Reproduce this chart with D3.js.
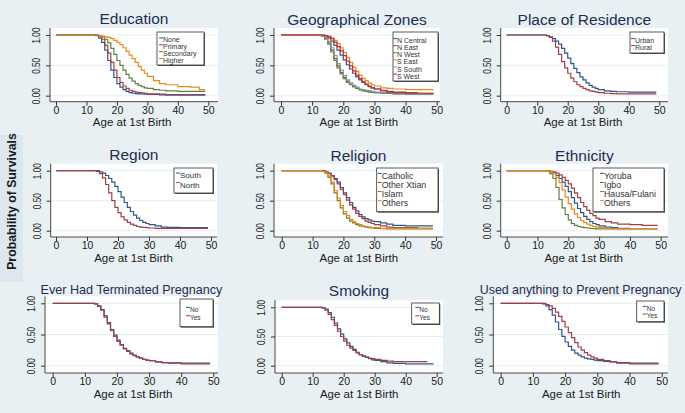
<!DOCTYPE html>
<html><head><meta charset="utf-8">
<script src="https://cdn.jsdelivr.net/npm/d3@7"></script>
<style>
html,body{margin:0;padding:0;background:#e9f0f3;}
svg{display:block;font-family:"Liberation Sans",Arial,sans-serif;}
</style>
</head><body>
<svg id="c" width="685" height="413"></svg>
<script>
// ---------- DATA ----------
const ages = [0,12,13,14,15,16,17,18,19,20,21,22,23,24,25,26,27,28,29,30,32,34,36,40,44,47,49];
const xTicks = [0,10,20,30,40,50];
const yTicks = [0,0.5,1];
const yTickLabels = ["0.00","0.50","1.00"];
const yAxisTitle = "Probability of Survivals";
const xAxisTitle = "Age at 1st Birth";

const panelTitles = ["Education","Geographical Zones","Place of Residence","Region","Religion","Ethnicity","Ever Had Terminated Pregnancy","Smoking","Used anything to Prevent Pregnancy"];

const eduLabels = ["None","Primary","Secondary","Higher"];
const eduNone      = [1,1,0.99,0.95,0.88,0.75,0.58,0.42,0.30,0.20,0.14,0.10,0.07,0.05,0.04,0.035,0.03,0.03,0.025,0.02,0.02,0.015,0.01,0.01,0.01,0.01,0.01];
const eduPrimary   = [1,1,1,0.98,0.93,0.83,0.70,0.55,0.42,0.30,0.22,0.16,0.12,0.09,0.07,0.06,0.05,0.045,0.04,0.03,0.03,0.025,0.02,0.02,0.02,0.02,0.02];
const eduSecondary = [1,1,1,0.99,0.97,0.93,0.87,0.78,0.68,0.58,0.50,0.42,0.35,0.29,0.24,0.20,0.17,0.15,0.13,0.12,0.10,0.09,0.08,0.07,0.07,0.07,0.07];
const eduHigher    = [1,1,1,0.99,0.98,0.97,0.96,0.94,0.91,0.88,0.84,0.79,0.73,0.67,0.61,0.55,0.48,0.42,0.37,0.32,0.25,0.20,0.18,0.15,0.14,0.10,0.10];

const zoneLabels = ["N Central","N East","N West","S East","S South","S West"];
const zoneNCentral = [1,1,0.995,0.98,0.95,0.90,0.83,0.75,0.67,0.59,0.51,0.44,0.37,0.31,0.26,0.22,0.18,0.15,0.13,0.11,0.09,0.07,0.06,0.05,0.05];
const zoneNEast    = [1,1,0.99,0.95,0.87,0.75,0.61,0.49,0.38,0.30,0.24,0.19,0.15,0.12,0.10,0.09,0.08,0.07,0.06,0.05,0.045,0.04,0.035,0.03,0.03,0.03,0.03];
const zoneNWest    = [1,1,0.98,0.93,0.85,0.72,0.58,0.46,0.36,0.28,0.22,0.18,0.15,0.12,0.10,0.08,0.07,0.06,0.055,0.05,0.04,0.04,0.03,0.03,0.03,0.03,0.03];
const zoneSEast    = [1,1,1,0.99,0.98,0.95,0.91,0.86,0.79,0.71,0.63,0.55,0.47,0.40,0.34,0.29,0.25,0.21,0.18,0.16,0.13,0.12,0.11,0.10,0.10,0.10,0.10];
const zoneSSouth   = [1,1,0.99,0.96,0.89,0.79,0.66,0.53,0.42,0.33,0.26,0.21,0.17,0.14,0.11,0.10,0.09,0.08,0.07,0.06,0.05,0.05,0.04,0.04,0.04,0.04,0.04];
const zoneSWest    = [1,1,1,0.99,0.97,0.94,0.88,0.81,0.74,0.66,0.57,0.49,0.41,0.34,0.28,0.23,0.19,0.16,0.13,0.11,0.08,0.06,0.05,0.04,0.04,0.04,0.04];

const resLabels = ["Urban","Rural"];
const resUrban = [1,1,0.99,0.97,0.94,0.90,0.85,0.78,0.70,0.62,0.53,0.45,0.38,0.31,0.26,0.21,0.17,0.14,0.12,0.10,0.08,0.07,0.065,0.06,0.06,0.06,0.06];
const resRural = [1,1,0.99,0.96,0.90,0.80,0.68,0.56,0.46,0.37,0.29,0.23,0.18,0.15,0.12,0.10,0.08,0.07,0.06,0.05,0.04,0.035,0.03,0.03,0.03,0.03,0.03];

const regLabels = ["South","North"];
const regSouth = [1,1,1,0.98,0.96,0.92,0.87,0.81,0.74,0.65,0.56,0.47,0.39,0.32,0.26,0.21,0.17,0.14,0.12,0.10,0.08,0.06,0.055,0.05,0.05,0.05,0.05];
const regNorth = [1,1,0.99,0.95,0.88,0.77,0.63,0.50,0.39,0.30,0.23,0.18,0.14,0.11,0.09,0.07,0.06,0.055,0.05,0.045,0.04,0.04,0.04,0.04,0.04,0.04,0.04];

const relLabels = ["Catholic","Other Xtian","Islam","Others"];
const relCatholic = [1,1,1,0.98,0.96,0.92,0.87,0.81,0.72,0.63,0.55,0.47,0.39,0.33,0.27,0.23,0.20,0.18,0.16,0.15,0.13,0.11,0.09,0.08,0.08,0.08,0.08];
const relOtherX   = [1,1,1,0.98,0.95,0.91,0.85,0.78,0.69,0.60,0.51,0.43,0.36,0.29,0.24,0.20,0.16,0.14,0.12,0.10,0.08,0.06,0.05,0.05,0.04,0.04,0.04];
const relIslam    = [1,1,0.99,0.96,0.89,0.78,0.63,0.50,0.38,0.28,0.21,0.16,0.13,0.10,0.08,0.07,0.06,0.05,0.045,0.04,0.035,0.03,0.03,0.03,0.03,0.03,0.03];
const relOthers   = [1,1,0.99,0.97,0.91,0.81,0.67,0.54,0.42,0.32,0.25,0.19,0.15,0.12,0.10,0.08,0.07,0.06,0.05,0.05,0.04,0.04,0.04,0.04,0.04,0.04,0.04];

const ethLabels = ["Yoruba","Igbo","Hausa/Fulani","Others"];
const ethYoruba = [1,1,1,0.98,0.96,0.92,0.87,0.81,0.74,0.65,0.55,0.46,0.37,0.30,0.24,0.19,0.15,0.12,0.10,0.08,0.06,0.05,0.04,0.03];
const ethIgbo   = [1,1,1,0.99,0.98,0.96,0.93,0.89,0.84,0.78,0.71,0.63,0.55,0.47,0.40,0.34,0.29,0.25,0.21,0.19,0.15,0.13,0.11,0.10,0.09,0.09,0.09];
const ethHausa  = [1,1,0.99,0.95,0.87,0.72,0.52,0.38,0.27,0.18,0.12,0.09,0.07,0.06,0.05,0.045,0.04,0.035,0.03,0.03,0.03,0.03,0.03,0.03,0.03,0.03,0.03];
const ethOthers = [1,1,0.99,0.98,0.95,0.89,0.80,0.68,0.56,0.45,0.36,0.28,0.22,0.17,0.14,0.11,0.09,0.07,0.06,0.05,0.04,0.035,0.03,0.03,0.03,0.03,0.03];

const ynLabels = ["No","Yes"];
const termNo  = [1,1,0.99,0.96,0.90,0.80,0.69,0.58,0.49,0.41,0.34,0.28,0.24,0.20,0.17,0.14,0.12,0.10,0.09,0.08,0.06,0.05,0.045,0.04,0.04,0.04,0.04];
const termYes = [1,1,0.99,0.95,0.89,0.78,0.67,0.56,0.47,0.39,0.33,0.27,0.23,0.19,0.16,0.14,0.12,0.10,0.09,0.08,0.06,0.05,0.04,0.03,0.03,0.03,0.03];

const smokeNo  = [1,1,0.99,0.97,0.91,0.83,0.73,0.63,0.54,0.46,0.39,0.33,0.28,0.23,0.19,0.16,0.14,0.12,0.10,0.09,0.07,0.05,0.04,0.03,0.03,0.03,0.03];
const smokeYes = [1,1,0.99,0.95,0.88,0.79,0.69,0.59,0.50,0.42,0.35,0.30,0.26,0.22,0.19,0.17,0.15,0.13,0.12,0.11,0.09,0.08,0.07,0.07,0.07,0.07];

const usedNo  = [1,1,0.99,0.96,0.90,0.81,0.70,0.58,0.47,0.38,0.31,0.25,0.20,0.17,0.14,0.12,0.11,0.10,0.09,0.08,0.07,0.06,0.05,0.04,0.04,0.04,0.04];
const usedYes = [1,1,1,0.98,0.96,0.92,0.86,0.79,0.71,0.62,0.53,0.45,0.37,0.30,0.25,0.21,0.17,0.14,0.12,0.10,0.08,0.06,0.04,0.03,0.03,0.03,0.03];

// ---------- STYLE / LAYOUT ----------
const C = {navy:"#2c5887", maroon:"#a13f48", green:"#5e8340", orange:"#ea8a1a", teal:"#7f9b93", cran:"#c92a40"};

const panels = [
 {title:panelTitles[0], tfs:15.5, ty:24, labels:eduLabels, series:[eduNone,eduPrimary,eduSecondary,eduHigher], colors:[C.navy,C.maroon,C.green,C.orange],
  ax:50, x0:56, x50:208.3, right:218, y1:35, y0:95.7, axY:101.7,
  leg:{x:157,y:32,w:47,h:33,fs:7,r0:40,dr:6.9,tx:163}},
 {title:panelTitles[1], tfs:15.5, ty:25, labels:zoneLabels, series:[zoneNCentral,zoneNEast,zoneNWest,zoneSEast,zoneSSouth,zoneSWest], colors:[C.navy,C.maroon,C.green,C.orange,C.teal,C.cran],
  ax:274, x0:281, x50:436.7, right:440, y1:35, y0:95.7, axY:101.7,
  leg:{x:393,y:32,w:45,h:49,fs:7,r0:40.7,dr:7.1,tx:397}},
 {title:panelTitles[2], tfs:15.5, ty:25, labels:resLabels, series:[resUrban,resRural], colors:[C.navy,C.maroon],
  ax:500.7, x0:506.7, x50:659.3, right:668, y1:35, y0:95.7, axY:101.7,
  leg:{x:630,y:32,w:34,h:21,fs:7,r0:40.7,dr:7,tx:635}},
 {title:panelTitles[3], tfs:15.5, ty:160, labels:regLabels, series:[regSouth,regNorth], colors:[C.navy,C.maroon],
  ax:50.7, x0:56, x50:211, right:217, y1:170.7, y0:230.7, axY:237,
  leg:{x:174,y:168,w:39,h:25,fs:8,r0:175.5,dr:9.5,tx:180}},
 {title:panelTitles[4], tfs:15.5, ty:160.7, labels:relLabels, series:[relCatholic,relOtherX,relIslam,relOthers], colors:[C.navy,C.maroon,C.green,C.orange],
  ax:274, x0:281.7, x50:436, right:443, y1:170.7, y0:230.7, axY:237,
  leg:{x:376.7,y:168,w:61.3,h:43.7,fs:8.8,r0:176,dr:9.1,tx:381.7}},
 {title:panelTitles[5], tfs:15.5, ty:160.7, labels:ethLabels, series:[ethYoruba,ethIgbo,ethHausa,ethOthers], colors:[C.navy,C.maroon,C.green,C.orange],
  ax:500.7, x0:506.7, x50:660.7, right:668, y1:170.7, y0:230.7, axY:237,
  leg:{x:593,y:168,w:71,h:43.7,fs:8.8,r0:176,dr:9.1,tx:604}},
 {title:panelTitles[6], tfs:12.6, ty:294, labels:ynLabels, series:[termNo,termYes], colors:[C.navy,C.maroon],
  ax:45, x0:52.7, x50:213.3, right:218, y1:303.3, y0:365.7, axY:373,
  leg:{x:180,y:299,w:33,h:27.7,fs:6.5,r0:309.3,dr:8.4,tx:190}},
 {title:panelTitles[7], tfs:15.5, ty:295.7, labels:ynLabels, series:[smokeNo,smokeYes], colors:[C.navy,C.maroon],
  ax:275, x0:281.7, x50:436.7, right:443, y1:307.3, y0:365.7, axY:373,
  leg:{x:411.7,y:303,w:27.6,h:21,fs:6.5,r0:309.3,dr:8.4,tx:419.3}},
 {title:panelTitles[8], tfs:12.4, ty:294.3, labels:ynLabels, series:[usedNo,usedYes], colors:[C.navy,C.maroon],
  ax:493.3, x0:500.7, x50:661.7, right:668, y1:303.3, y0:365.7, axY:373,
  leg:{x:636.7,y:301,w:27.3,h:20.7,fs:6.5,r0:308.3,dr:7.7,tx:646.7}}
];

// ---------- DRAW ----------
const svg = d3.select("#c");
svg.append("rect").attr("width",685).attr("height",413).attr("fill","#e9f0f3");
// band behind y-axis title
svg.append("rect").attr("x",0).attr("y",135).attr("width",23).attr("height",147).attr("fill","#dde7ef");
svg.append("text").attr("transform","translate(15.5,201.5) rotate(-90)")
  .attr("text-anchor","middle").attr("font-weight","bold").attr("font-size",12.3)
  .attr("fill","#1a1a1a").text(yAxisTitle);

panels.forEach(p => {
  const g = svg.append("g");
  const x = d3.scaleLinear().domain([0,50]).range([p.x0,p.x50]);
  const y = d3.scaleLinear().domain([0,1]).range([p.y0,p.y1]);
  const top = p.y1 - 7;
  // plot region
  g.append("rect").attr("x",p.ax).attr("y",top).attr("width",p.right-p.ax).attr("height",p.axY-top).attr("fill","#ffffff");
  // grid
  g.selectAll("line.grid").data(yTicks).enter().append("line")
    .attr("x1",p.ax).attr("x2",p.right).attr("y1",d=>y(d)).attr("y2",d=>y(d))
    .attr("stroke","#e3e9ee").attr("stroke-width",0.8);
  // title
  g.append("text").attr("x",(p.ax+p.right)/2).attr("y",p.ty).attr("text-anchor","middle")
    .attr("font-size",p.tfs).attr("fill","#1f2d52").text(p.title);
  // x axis
  const xa = g.append("g").attr("transform",`translate(0,${p.axY})`)
    .call(d3.axisBottom(x).tickValues(xTicks).tickSize(4).tickPadding(1).tickSizeOuter(0));
  xa.select(".domain").remove();
  xa.selectAll("line").attr("stroke","#333");
  xa.selectAll("text").attr("font-size",10.5).attr("fill","#1a1a1a").attr("font-family","Liberation Sans, Arial, sans-serif");
  g.append("line").attr("x1",p.ax).attr("x2",p.right).attr("y1",p.axY).attr("y2",p.axY).attr("stroke","#333").attr("stroke-width",0.9);
  // y axis
  const ya = g.append("g").attr("transform",`translate(${p.ax},0)`)
    .call(d3.axisLeft(y).tickValues(yTicks).tickFormat((d,i)=>yTickLabels[i]).tickSize(4).tickSizeOuter(0));
  ya.select(".domain").remove();
  ya.selectAll("line").attr("stroke","#333");
  ya.selectAll("text").attr("x",null).attr("dy",null)
    .attr("text-anchor","middle").attr("transform","translate(-10,0) rotate(-90) scale(0.78,1)")
    .attr("font-size",10.5).attr("fill","#1a1a1a").attr("font-family","Liberation Sans, Arial, sans-serif");
  g.append("line").attr("x1",p.ax).attr("x2",p.ax).attr("y1",top).attr("y2",p.axY).attr("stroke","#333").attr("stroke-width",0.9);
  // x title
  g.append("text").attr("x",(p.x0+p.x50)/2).attr("y",p.axY+24.5).attr("text-anchor","middle")
    .attr("font-size",11.5).attr("fill","#1a1a1a").text(xAxisTitle);
  // curves
  const line = d3.line().x(d=>x(d[0])).y(d=>y(d[1])).curve(d3.curveStepAfter);
  p.series.forEach((s,i) => {
    const pts = s.map((v,k)=>[ages[k],v]);
    g.append("path").attr("d",line(pts)).attr("fill","none")
      .attr("stroke",p.colors[i]).attr("stroke-width",1.2);
  });
  // legend
  const L = p.leg;
  g.append("rect").attr("x",L.x+1).attr("y",L.y+1).attr("width",L.w).attr("height",L.h).attr("fill","#555");
  g.append("rect").attr("x",L.x).attr("y",L.y).attr("width",L.w).attr("height",L.h)
    .attr("fill","#ffffff").attr("stroke","#333").attr("stroke-width",0.8);
  p.labels.forEach((lab,i) => {
    const cy = L.r0 + i*L.dr;
    g.append("line").attr("x1",L.tx-4).attr("x2",L.tx).attr("y1",cy-L.fs*0.3).attr("y2",cy-L.fs*0.3)
      .attr("stroke",p.colors[i]).attr("stroke-width",1);
    g.append("text").attr("x",L.tx).attr("y",cy).attr("dy","0.35em")
      .attr("font-size",L.fs).attr("fill","#333").text(lab);
  });
});
</script>
</body></html>
